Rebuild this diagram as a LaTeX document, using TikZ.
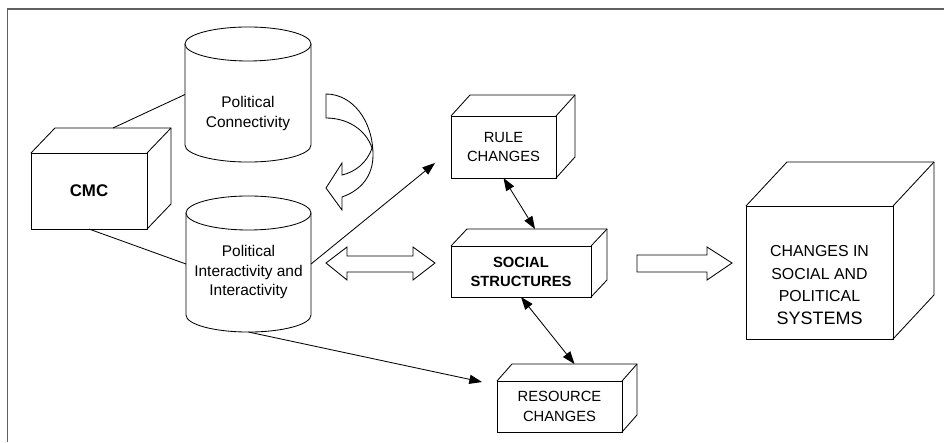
\documentclass[tikz,border=0pt]{standalone}
\usepackage{fontspec}
\setmainfont{Liberation Sans}
\usetikzlibrary{arrows.meta,calc}
\tikzset{
  boxface/.style={draw, fill=white, inner sep=0pt, outer sep=0pt, align=center},
  drum/.style={inner sep=0pt, outer sep=0pt},
  lbl/.style={align=center, font=\fontsize{11}{14.2}\selectfont},
  caps/.style={align=center, font=\fontsize{10.5}{14}\selectfont},
  tip/.style={-{Triangle[length=9pt,width=6.5pt]}},
  dbl/.style={{Triangle[length=9pt,width=6.5pt]}-{Triangle[length=9pt,width=6.5pt]}},
  blk/.style={draw, fill=white, line join=miter}
}

\begin{document}
\begin{tikzpicture}[x=0.025cm, y=-0.025cm, line width=0.6pt]
\useasboundingbox (0,0) rectangle (944,442);
\draw[gray!75!black, line width=1.2pt] (7.5,442) -- (7.5,9) -- (944,9);

% cylinders
\node[drum, minimum width=3.15cm, minimum height=2.525cm] (conn) at (248,94.5) {};
\draw[fill=white] (conn.north west) -- (conn.south west) arc[start angle=180, end angle=360, x radius=1.575cm, y radius=0.425cm] -- (conn.north east);
\draw[fill=white] (conn.north) ellipse [x radius=1.575cm, y radius=0.425cm];
\node[lbl] (conntxt) at (248,113.5) {Political\\Connectivity};

\node[drum, minimum width=3.125cm, minimum height=2.55cm] (inter) at (248.5,264) {};
\draw[fill=white] (inter.north west) -- (inter.south west) arc[start angle=180, end angle=360, x radius=1.5625cm, y radius=0.425cm] -- (inter.north east);
\draw[fill=white] (inter.north) ellipse [x radius=1.5625cm, y radius=0.425cm];
\node[lbl] (intertxt) at (248.5,272) {Political\\Interactivity and\\Interactivity};

% boxes
\node[boxface, minimum width=2.9cm, minimum height=1.9cm, font=\bfseries\fontsize{12}{14}\selectfont] (cmc) at (89,191) {CMC};
\draw (cmc.north west) -- ++(24,-25) -- ++(116,0) -- ++(0,76) -- (cmc.south east);
\draw (cmc.north east) -- ++(24,-25);

\node[boxface, caps, minimum width=2.625cm, minimum height=1.55cm] (rule) at (503.5,147) {RULE\\CHANGES};
\draw (rule.north west) -- ++(19,-21) -- ++(105,0) -- ++(0,62) -- (rule.south east);
\draw (rule.north east) -- ++(19,-21);

\node[boxface, minimum width=3.5cm, minimum height=1.275cm, font=\bfseries\fontsize{10.5}{13.5}\selectfont] (social) at (521,271.5) {SOCIAL\\STRUCTURES};
\draw (social.north west) -- ++(16,-17) -- ++(140,0) -- ++(0,51) -- (social.south east);
\draw (social.north east) -- ++(16,-17);

\node[boxface, caps, minimum width=3.125cm, minimum height=1.275cm] (resource) at (559.5,406.5) {RESOURCE\\CHANGES};
\draw (resource.north west) -- ++(15,-17) -- ++(125,0) -- ++(0,51) -- (resource.south east);
\draw (resource.north east) -- ++(15,-17);

\node[boxface, minimum width=3.675cm, minimum height=3.325cm] (sys) at (819.5,272.5) {};
\draw (sys.north west) -- ++(41,-44) -- ++(147,0) -- ++(0,133) -- (sys.south east);
\draw (sys.north east) -- ++(41,-44);
\node[align=center, font=\fontsize{11.3}{16}\selectfont] (systxt) at (819.5,285) {CHANGES IN\\SOCIAL AND\\POLITICAL\\{\fontsize{12.8}{17}\selectfont SYSTEMS}};

% connectors
\coordinate (ruletip) at (435,163);
\coordinate (restip) at (482,382);
\draw ($(cmc.north)+(24,-25)$) -- (conn.west);
\draw (cmc.south) -- (inter.west);
\draw[tip] (inter.east) -- (ruletip);
\draw[tip] ($(inter.south)+(0,17)$) -- (restip);
\draw[dbl] (rule.south) -- ($(social.north)+(14,-17)$);
\draw[dbl] (social.south) -- ($(resource.north)+(15,-17)$);

% block arrows
\draw[blk] (326,94) -- (326,118) .. controls (348,118) and (366,130) .. (372,148) .. controls (367,163) and (355,172) .. (342,175) -- (342,163) -- (326,188) -- (342,210) -- (342,197) .. controls (362,190) and (373,175) .. (373,155) .. controls (373,120) and (352,94) .. cycle;
\draw[blk] (326,263) -- (347,247) -- (347,256) -- (413,256) -- (413,247) -- (435,263) -- (413,280) -- (413,272) -- (347,272) -- (347,280) -- cycle;
\draw[blk] (637,255) -- (707,255) -- (707,247) -- (732,263) -- (707,280) -- (707,272) -- (637,272) -- cycle;
\end{tikzpicture}
\end{document}
